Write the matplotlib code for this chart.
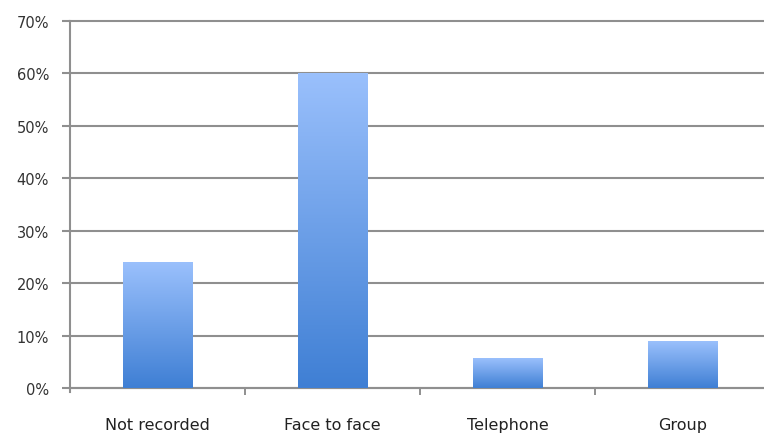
import numpy as np
from matplotlib import pyplot as plt
from matplotlib.colors import LinearSegmentedColormap

categories = ["Not recorded", "Face to face", "Telephone", "Group"]
shares = [0.24, 0.60, 0.057, 0.088]
y_ticks = [0.0, 0.1, 0.2, 0.3, 0.4, 0.5, 0.6, 0.7]
y_tick_labels = ["0%", "10%", "20%", "30%", "40%", "50%", "60%", "70%"]

grid_colour = "#8f8f8f"
bar_cmap = LinearSegmentedColormap.from_list("bars", ["#3f7fd4", "#9ac0fc"])

fig = plt.figure(figsize=(7.64, 4.35), dpi=100)
ax = fig.add_axes([70 / 764, 46 / 435, 700 / 764, 367 / 435])

x = np.arange(len(categories))
bars = ax.bar(x, shares, width=0.4, color="none", zorder=3)

# vertical gradient fill for each bar
gradient = np.linspace(0, 1, 256).reshape(-1, 1)
for bar in bars:
    x0 = bar.get_x()
    ax.imshow(gradient, extent=[x0, x0 + bar.get_width(), 0, bar.get_height()],
              origin="lower", aspect="auto", cmap=bar_cmap, zorder=3)

ax.set_xlim(-0.5, len(categories) - 0.5)
ax.set_ylim(0, 0.7)
ax.set_yticks(y_ticks)
ax.set_yticklabels(y_tick_labels)
ax.yaxis.grid(True, color=grid_colour, linewidth=1.5, zorder=1)
for line in ax.get_ygridlines():
    line.set_clip_on(False)
ax.set_axisbelow(True)

ax.set_xticks(x)
ax.set_xticklabels(categories)
ax.set_xticks(x[:-1] + 0.5, minor=True)
ax.tick_params(axis="x", which="major", length=0, pad=21, labelsize=11.5,
               labelcolor="#222222")
ax.tick_params(axis="x", which="minor", length=5, width=1.4, color=grid_colour,
               direction="out")
ax.tick_params(axis="y", length=6, width=1.5, color=grid_colour, pad=9,
               labelsize=10.5, labelcolor="#333333")

for side in ["top", "right"]:
    ax.spines[side].set_visible(False)
ax.spines["left"].set_color(grid_colour)
ax.spines["left"].set_linewidth(1.5)
ax.spines["left"].set_bounds(-0.008, 0.7)
ax.spines["bottom"].set_color(grid_colour)
ax.spines["bottom"].set_linewidth(1.5)

fig.savefig("out.png", dpi=100)
